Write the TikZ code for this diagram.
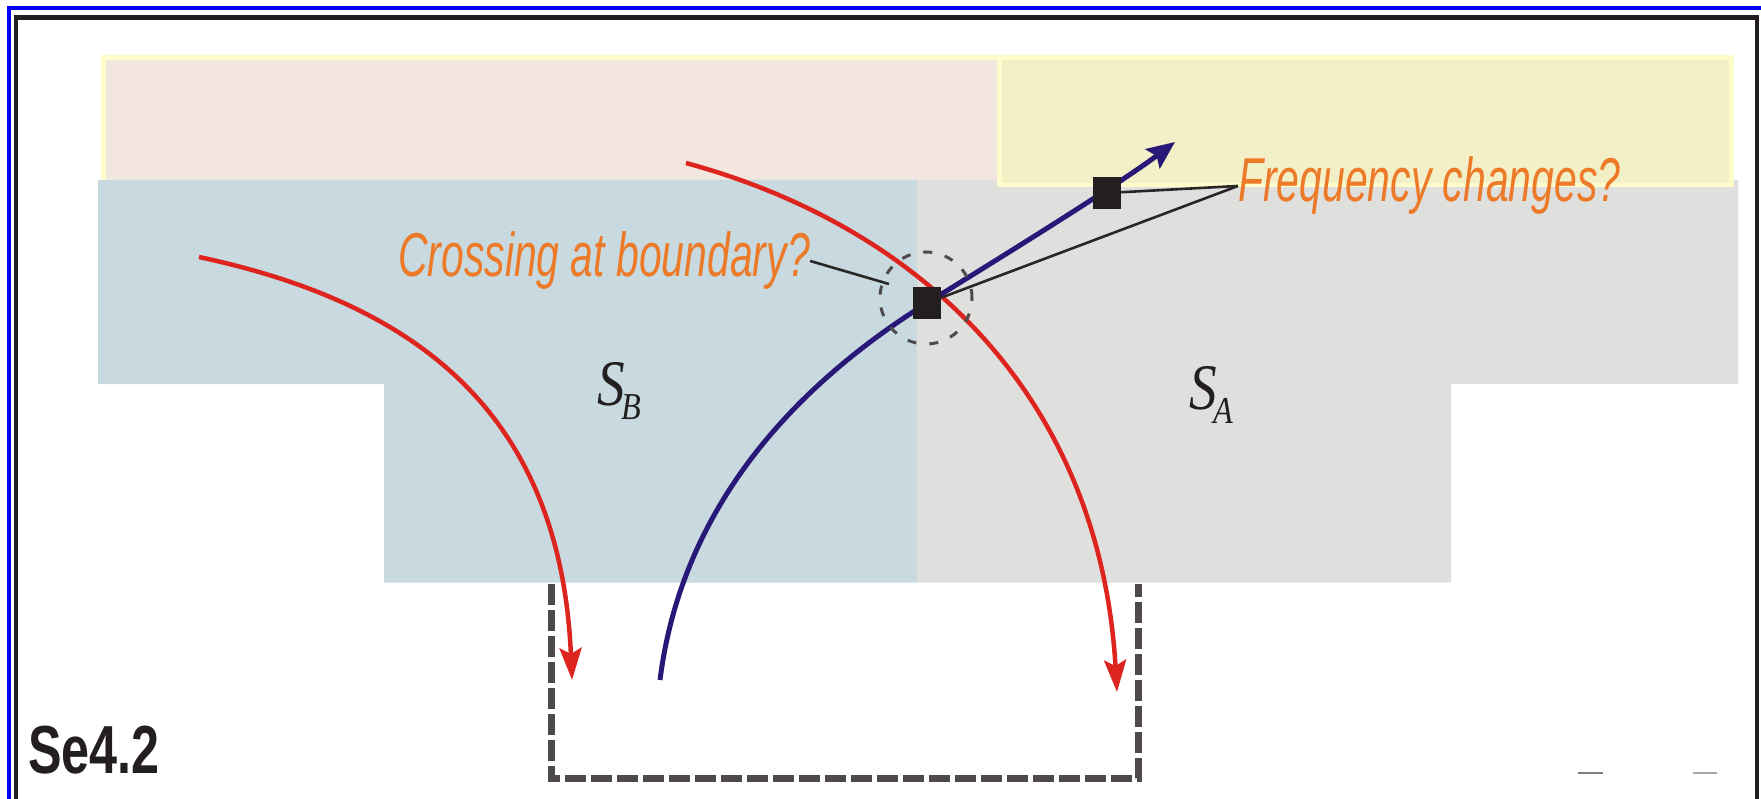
\documentclass[tikz,border=0pt]{standalone}
\usepackage{fontspec}
\setmainfont{Liberation Sans}
\newfontfamily\narrowit[FakeStretch=0.66]{Liberation Sans}
\newfontfamily\narrowbf[FakeStretch=0.74]{Liberation Sans}
\newfontfamily\serifit[FakeStretch=0.85]{Liberation Serif}
\usetikzlibrary{arrows.meta}
\definecolor{framblue}{RGB}{0,0,255}
\definecolor{framblack}{RGB}{35,31,32}
\definecolor{beigefill}{RGB}{242,230,222}
\definecolor{paleyellow}{RGB}{255,252,204}
\definecolor{yellowfill}{RGB}{243,240,200}
\definecolor{bluegrey}{RGB}{200,218,223}
\definecolor{lightgrey}{RGB}{223,223,222}
\definecolor{redc}{RGB}{222,36,30}
\definecolor{navyc}{RGB}{40,24,120}
\definecolor{orangec}{RGB}{236,122,40}
\definecolor{dashgrey}{RGB}{78,74,74}
\definecolor{leadc}{RGB}{40,38,38}
\newcommand{\regionlabel}[2]{{\serifit\itshape\fontsize{65}{65}\selectfont #1\kern-3pt\raisebox{-14pt}{\fontsize{38}{38}\selectfont #2}}}
\begin{document}
\begin{tikzpicture}[x=1pt,y=-1pt,
  sq/.style={fill=framblack, draw=none, minimum width=28pt, minimum height=32pt, inner sep=0pt},
  lbl/.style={text=orangec, inner sep=0pt, font=\fontsize{62}{62}\selectfont\narrowit\itshape},
  redcurve/.style={draw=redc, line width=4.5pt, -{Stealth[length=32pt,width=22pt,inset=6pt]}},
  bluecurve/.style={draw=navyc, line width=5pt, -{Stealth[length=28pt,width=24pt,inset=5pt]}},
  leader/.style={draw=leadc, line width=2.6pt},
  region/.style={draw=none}]
\useasboundingbox (0,0) rectangle (1761,799);
\fill[white] (0,0) rectangle (1761,799);
% frames
\draw[framblue, line width=4pt] (8.5,799) -- (8.5,8.5) -- (1761,8.5);
\draw[framblack, line width=4.5pt] (16,799) -- (16,17.5) -- (1757,17.5) -- (1757,799);
% regions
\draw[paleyellow, line width=4.5pt, fill=beigefill] (103.5,57.5) rectangle (1000,184);
\fill[bluegrey] (98,180) -- (917,180) -- (917,582.5) -- (384,582.5) -- (384,384) -- (98,384) -- cycle;
\fill[lightgrey] (917,180) -- (1738,180) -- (1738,384) -- (1451,384) -- (1451,582.5) -- (917,582.5) -- cycle;
\draw[paleyellow, line width=4.5pt, fill=yellowfill] (999.3,57.3) rectangle (1731.7,185.2);
% dashed box
\draw[dashgrey, line width=7pt, dash pattern=on 21pt off 5pt] (551,584) -- (551,778) -- (1138,778) -- (1138,584);
% labels
\node[lbl, anchor=base west] (cross) at (398,277) {Crossing at boundary?};
\node[lbl, anchor=base west] (freq) at (1238,202) {Frequency changes?};
\node[anchor=base west, inner sep=0pt, text=framblack] (sb) at (597,405) {\regionlabel{S}{B}};
\node[anchor=base west, inner sep=0pt, text=framblack] (sa) at (1189,409) {\regionlabel{S}{A}};
\node[anchor=base west, inner sep=0pt, text=framblack] (se) at (28,773) {\fontsize{68}{68}\selectfont\narrowbf\bfseries Se4.2};
% curve end points
\coordinate (cc) at (927,303);
\coordinate (uc) at (1107,193);
\coordinate (lr0) at (199,257);
\coordinate (lr1) at (572,680);
\coordinate (rr0) at (686,163);
\coordinate (rr1) at (1117,692);
\coordinate (b0) at (660,680);
\coordinate (btip) at (1175,142);
\coordinate (crossend) at (889,284);
% curves
\draw[redcurve] (lr0) .. controls (400,300) and (560,400) .. (lr1);
\draw[redcurve] (rr0) .. controls (925,228) and (1100,400) .. (rr1);
\draw[bluecurve] (b0) .. controls (675,560) and (740,420) .. (cc) .. controls (990,264) and (1115,187) .. (btip);
% markers
\node[sq] (c) at (cc) {};
\node[sq] (u) at (uc) {};
\node[draw=dashgrey, circle, minimum size=92pt, inner sep=0pt, line width=3pt, dash pattern=on 9pt off 13pt] (ring) at (926,298) {};
% leaders
\draw[leader] (cross.east) -- (crossend);
\draw[leader] (freq.west) -- (u);
\draw[leader] (freq.west) -- (c);
% small marks at bottom right
\draw[gray, line width=1.2pt] (1578,773) -- (1603,773);
\draw[gray!70, line width=1.2pt] (1693,773) -- (1717,773);
\end{tikzpicture}
\end{document}
